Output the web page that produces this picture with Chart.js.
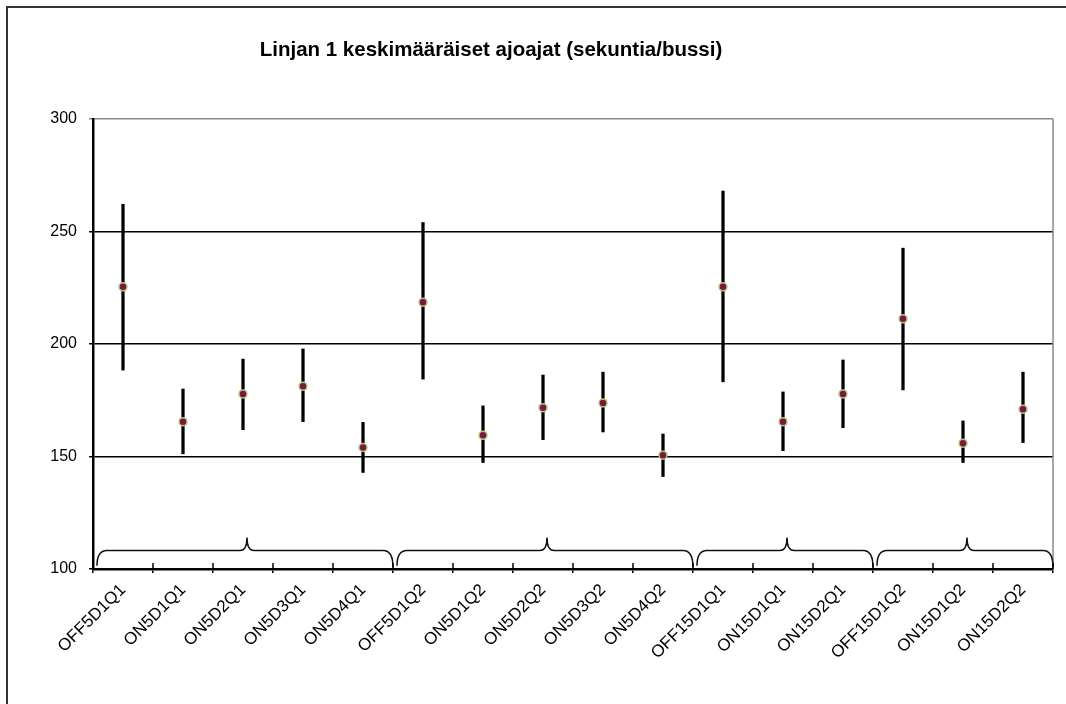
<!DOCTYPE html>
<html><head><meta charset="utf-8">
<script src="https://cdn.jsdelivr.net/npm/chart.js@4.4.0/dist/chart.umd.min.js"></script>
<style>html,body{margin:0;padding:0;background:#fff;overflow:hidden}canvas{display:block}</style>
</head><body>
<canvas id="c" width="1066" height="704"></canvas>
<script>
const categories = ['OFF5D1Q1','ON5D1Q1','ON5D2Q1','ON5D3Q1','ON5D4Q1','OFF5D1Q2','ON5D1Q2','ON5D2Q2','ON5D3Q2','ON5D4Q2','OFF15D1Q1','ON15D1Q1','ON15D2Q1','OFF15D1Q2','ON15D1Q2','ON15D2Q2'];
const means = [225.4,165.5,177.8,181.2,154.0,218.6,159.4,171.7,173.8,150.6,225.4,165.5,177.8,211.2,155.9,171.0];
const lows  = [188.4,151.2,161.9,165.5,142.9,184.4,147.3,157.5,160.9,141.1,183.2,152.6,162.8,179.6,147.3,156.2];
const highs = [262.1,180.0,193.3,197.8,165.2,254.0,172.5,186.2,187.5,160.0,268.0,178.7,192.9,242.6,165.8,187.5];
const yMin = 100, yMax = 300, yStep = 50;
const groups = [[0,4],[5,9],[10,12],[13,15]];
const titleText = 'Linjan 1 keskimääräiset ajoajat (sekuntia/bussi)';

const FONT = '"Liberation Sans", Arial, sans-serif';

const deco = {
  id: 'deco',
  beforeDraw(chart) {
    const ctx = chart.ctx;
    ctx.save();
    ctx.fillStyle = '#fff';
    ctx.fillRect(0, 0, chart.width, chart.height);
    ctx.strokeStyle = '#333';
    ctx.lineWidth = 2;
    ctx.strokeRect(7, 7, chart.width + 20, chart.height + 20);
    ctx.restore();
  },
  beforeDatasetsDraw(chart) {
    const ctx = chart.ctx, a = chart.chartArea;
    ctx.save();
    ctx.strokeStyle = '#888';
    ctx.lineWidth = 1.5;
    ctx.beginPath();
    ctx.moveTo(a.right, a.top);
    ctx.lineTo(a.right, a.bottom);
    ctx.stroke();
    ctx.restore();
  },
  afterDatasetsDraw(chart) {
    const ctx = chart.ctx, xs = chart.scales.x, ys = chart.scales.y;
    const half = (xs.getPixelForValue(1) - xs.getPixelForValue(0)) / 2;
    const yB = ys.getPixelForValue(101.5), yL = ys.getPixelForValue(108.2), yP = ys.getPixelForValue(114);
    ctx.save();
    ctx.strokeStyle = '#111';
    ctx.lineWidth = 1.5;
    groups.forEach(([s, e]) => {
      const x0 = xs.getPixelForValue(s) - half + 4;
      const x1 = xs.getPixelForValue(e) + half;
      const m = (x0 + x1) / 2 + 2;
      const r = 10;
      ctx.beginPath();
      ctx.moveTo(x0, yB);
      ctx.quadraticCurveTo(x0, yL, x0 + r, yL);
      ctx.lineTo(m - 7, yL);
      ctx.quadraticCurveTo(m, yL, m, yP);
      ctx.quadraticCurveTo(m, yL, m + 7, yL);
      ctx.lineTo(x1 - r, yL);
      ctx.quadraticCurveTo(x1, yL, x1, yB + 1.5);
      ctx.stroke();
    });
    ctx.strokeStyle = '#000';
    ctx.lineWidth = 1.5;
    for (let i = 0; i <= categories.length; i++) {
      const x = Math.round(xs.getPixelForValue(0) - half + i * 2 * half);
      ctx.beginPath();
      ctx.moveTo(x, ys.bottom - 6);
      ctx.lineTo(x, ys.bottom);
      ctx.stroke();
    }
    ctx.restore();
  },
  afterDraw(chart) {
    const ctx = chart.ctx;
    ctx.save();
    ctx.fillStyle = '#000';
    ctx.font = 'bold 20.5px ' + FONT;
    ctx.textAlign = 'center';
    ctx.textBaseline = 'middle';
    ctx.fillText(titleText, 491, 50);
    ctx.restore();
  }
};

new Chart(document.getElementById('c'), {
  type: 'bar',
  data: {
    labels: categories,
    datasets: [
      {
        type: 'line',
        data: means,
        showLine: false,
        pointRadius: 4,
        pointBackgroundColor: '#7b1744',
        pointBorderColor: '#b4c878',
        pointBorderWidth: 1.5,
        order: 1
      },
      {
        type: 'bar',
        data: lows.map((l, i) => [l, highs[i]]),
        backgroundColor: '#000',
        barThickness: 2.6,
        order: 2
      }
    ]
  },
  options: {
    responsive: false,
    animation: false,
    devicePixelRatio: 1,
    layout: { padding: { left: 40, right: 13, top: 119, bottom: 10 } },
    plugins: { legend: { display: false }, tooltip: { enabled: false }, title: { display: false } },
    scales: {
      x: {
        offset: true,
        grid: { offset: true, drawOnChartArea: false, drawTicks: true, tickLength: 4, color: '#000', lineWidth: 1.5 },
        border: { display: true, color: '#000', width: 2.5 },
        ticks: { minRotation: 45, maxRotation: 45, color: '#000', font: { size: 17, family: FONT }, padding: 7, autoSkip: false },
        afterFit(s) { s.height = 125; }
      },
      y: {
        min: yMin, max: yMax,
        ticks: { stepSize: yStep, color: '#000', font: { size: 16, family: FONT }, padding: 12 },
        grid: { color: c => (c.tick && c.tick.value === yMax) ? '#888' : '#000', lineWidth: 1.5, tickLength: 4, drawTicks: true },
        border: { display: true, color: '#000', width: 2.5 },
        afterFit(s) { s.width = 53; }
      }
    }
  },
  plugins: [deco]
});
</script>
</body></html>
